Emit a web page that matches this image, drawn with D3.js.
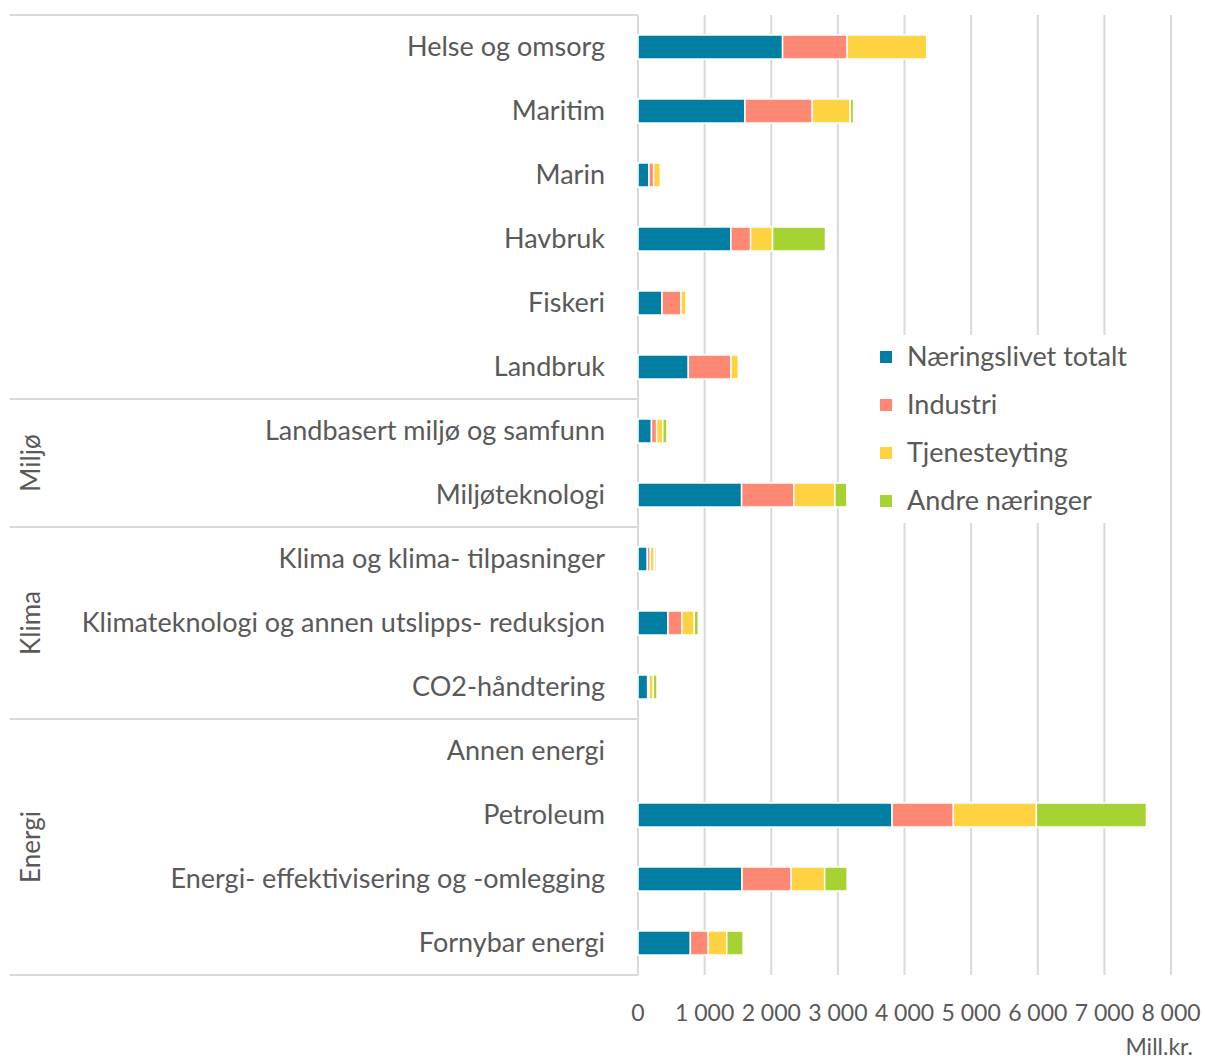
<!DOCTYPE html>
<html lang="no">
<head>
<meta charset="utf-8">
<title>Næringsliv FoU</title>
<script src="https://cdn.jsdelivr.net/npm/d3@7"></script>
<style>
  body { margin: 0; background: #fff; }
  svg text { font-family: "Source Sans Pro", Lato, "Noto Sans", sans-serif; fill: #595959; }
  .grid line { stroke: #d9d9d9; stroke-width: 2; }
</style>
</head>
<body>
<script>
var categories = ["Helse og omsorg", "Maritim", "Marin", "Havbruk", "Fiskeri", "Landbruk",
  "Landbasert miljø og samfunn", "Miljøteknologi",
  "Klima og klima- tilpasninger", "Klimateknologi og annen utslipps- reduksjon", "CO2-håndtering",
  "Annen energi", "Petroleum", "Energi- effektivisering og -omlegging", "Fornybar energi"];
var groups = ["", "", "", "", "", "", "Miljø", "Miljø", "Klima", "Klima", "Klima",
  "Energi", "Energi", "Energi", "Energi"];
var seriesNames = ["Næringslivet totalt", "Industri", "Tjenesteyting", "Andre næringer"];
var colors = ["#007fa3", "#ff8874", "#ffd242", "#a6d234"];

var naeringslivet = [2170, 1605, 165, 1395, 360, 755, 202, 1555, 140, 450, 145, 0, 3813, 1561, 786];
var industri      = [970, 1010, 70, 295, 285, 640, 78, 785, 45, 210, 20, 0, 920, 738, 267];
var tjeneste      = [1195, 570, 100, 330, 75, 110, 92, 615, 60, 185, 65, 0, 1246, 503, 279];
var andre         = [0, 50, 0, 795, 0, 0, 62, 180, 25, 60, 55, 0, 1652, 337, 246];
var xTicks = [0, 1000, 2000, 3000, 4000, 5000, 6000, 7000, 8000];

var W = 1205, H = 1059;
var x0 = 638, yTop = 15, yBottom = 975;

var rows = categories.map(function(c, i) {
  return { cat: c, group: groups[i], a: naeringslivet[i], b: industri[i], c: tjeneste[i], d: andre[i] };
});

var x = d3.scaleLinear().domain([0, 8000]).range([x0, 1171]);
var y = d3.scaleBand().domain(categories).range([yTop, yBottom]).paddingInner(0.625).paddingOuter(0.3125);

var stack = d3.stack().keys(["a", "b", "c", "d"]);
var layers = stack(rows);

var svg = d3.select("body").append("svg").attr("width", W).attr("height", H);

var fmt = d3.formatLocale({ decimal: ",", thousands: "\u00a0", grouping: [3], currency: ["", " kr"] }).format(",d");

// gridlines
svg.append("g").attr("class", "grid")
  .selectAll("line").data(xTicks.slice(1)).enter().append("line")
  .attr("x1", function(d) { return x(d); }).attr("x2", function(d) { return x(d); })
  .attr("y1", yTop).attr("y2", yBottom);

// category band lines and groups
var band = (yBottom - yTop) / categories.length;
var groupSpans = [];
groups.forEach(function(g, i) {
  var last = groupSpans[groupSpans.length - 1];
  if (last && last.name === g) last.end = i; else groupSpans.push({ name: g, start: i, end: i });
});
svg.append("line").attr("x1", 10).attr("x2", x0).attr("y1", yTop).attr("y2", yTop)
  .attr("stroke", "#d9d9d9").attr("stroke-width", 2);
groupSpans.forEach(function(s) {
  var yEnd = yTop + band * (s.end + 1);
  svg.append("line").attr("x1", 10).attr("x2", x0).attr("y1", yEnd).attr("y2", yEnd)
    .attr("stroke", "#d9d9d9").attr("stroke-width", 2);
  var yMid = yTop + band * (s.start + s.end + 1) / 2;
  if (s.name) {
    svg.append("text").attr("transform", "translate(40," + yMid + ") rotate(-90)")
      .attr("text-anchor", "middle").style("font-size", "26px").text(s.name);
  }
});
svg.append("line").attr("x1", x0).attr("x2", x0).attr("y1", yTop).attr("y2", yBottom)
  .attr("stroke", "#d9d9d9").attr("stroke-width", 2);

// bars
svg.selectAll("g.layer").data(layers).enter().append("g").attr("class", "layer")
  .attr("fill", function(d, i) { return colors[i]; })
  .selectAll("rect").data(function(d) { return d; }).enter().append("rect")
  .attr("x", function(d) { return x(d[0]); })
  .attr("y", function(d) { return y(d.data.cat); })
  .attr("width", function(d) { return Math.max(0, x(d[1]) - x(d[0])); })
  .attr("height", y.bandwidth())
  .attr("stroke", "#fff").attr("stroke-width", 1.5);

// category labels
svg.selectAll("text.cat").data(categories).enter().append("text").attr("class", "cat")
  .attr("x", 605).attr("y", function(d) { return y(d) + y.bandwidth() / 2; })
  .attr("dy", "0.35em").attr("text-anchor", "end").style("font-size", "27px")
  .text(function(d) { return d; });

// x tick labels
svg.selectAll("text.tick").data(xTicks).enter().append("text").attr("class", "tick")
  .attr("x", function(d) { return x(d); }).attr("y", 1021)
  .attr("text-anchor", "middle").style("font-size", "23px")
  .text(function(d) { return fmt(d); });
svg.append("text").attr("x", 1193).attr("y", 1055).attr("text-anchor", "end")
  .style("font-size", "23px").text("Mill.kr.");

// legend
var leg = svg.append("g").attr("transform", "translate(870,335)");
leg.append("rect").attr("width", 270).attr("height", 188).attr("fill", "#fff");
seriesNames.forEach(function(n, i) {
  var g = leg.append("g").attr("transform", "translate(0," + (22 + i * 48) + ")");
  g.append("rect").attr("x", 10).attr("y", -6).attr("width", 12).attr("height", 12).attr("fill", colors[i]);
  g.append("text").attr("x", 37).attr("dy", "0.35em").style("font-size", "27px").text(n);
});
</script>
</body>
</html>
